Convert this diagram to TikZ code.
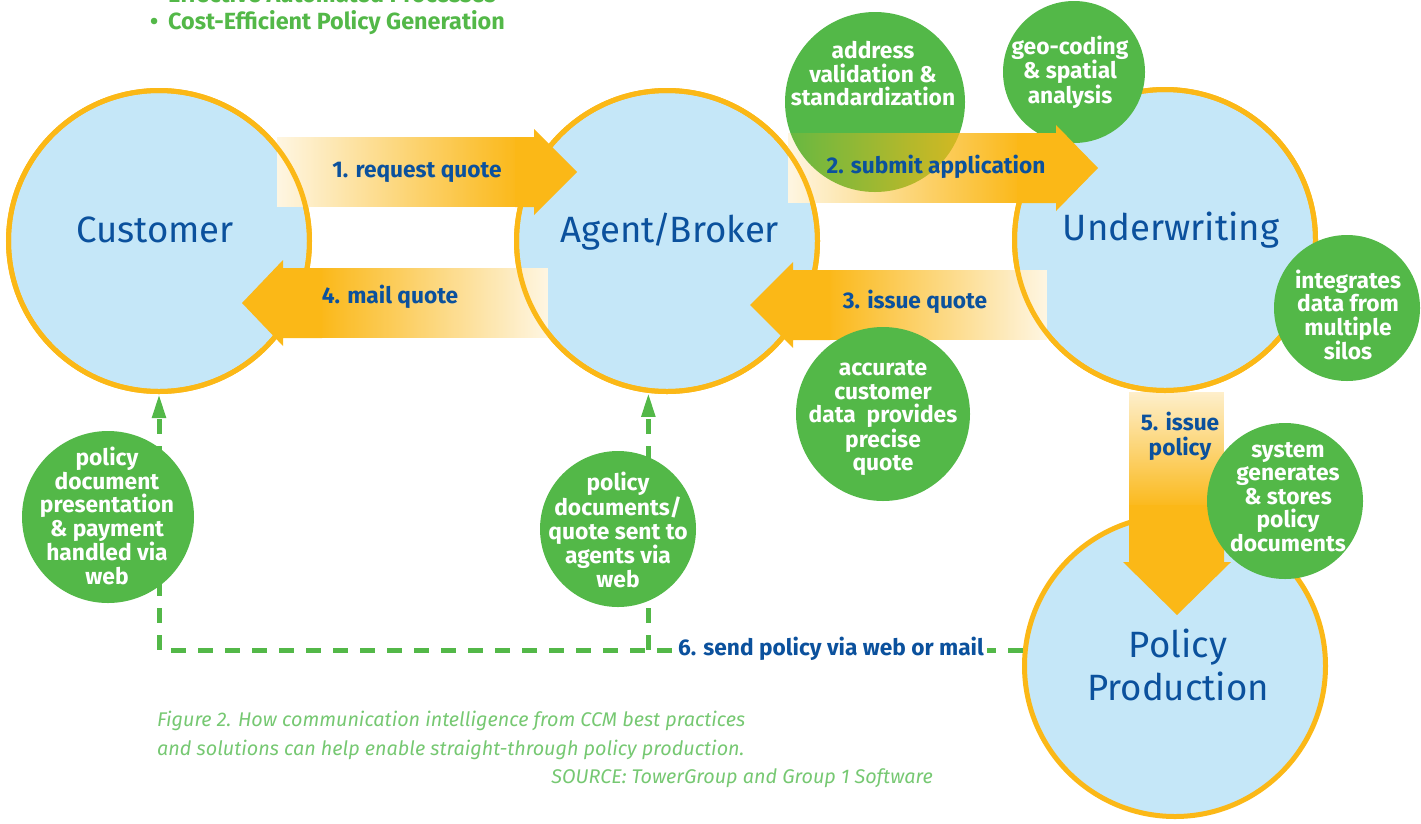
\documentclass[tikz,border=0pt]{standalone}
\usepackage{fontspec}
\setmainfont{Fira Sans}
\usetikzlibrary{arrows.meta,fadings}

\definecolor{skyfill}{HTML}{C5E7F8}
\definecolor{ringorange}{HTML}{FBB817}
\definecolor{leafgreen}{HTML}{53B848}
\definecolor{inkblue}{HTML}{0B519D}
\definecolor{capgreen}{HTML}{76C872}

% opacity ramps for the block-arrow bodies
\tikzfading[name=rampright, left color=transparent!88, right color=transparent!0]
\tikzfading[name=rampleft, left color=transparent!0, right color=transparent!88]
\tikzfading[name=rampdown, top color=transparent!78, bottom color=transparent!0]

\begin{document}
\begin{tikzpicture}[x=1pt, y=-1pt,
  hub/.style={circle, draw=ringorange, line width=5pt, fill=skyfill, minimum size=301pt, inner sep=0pt},
  hubring/.style={circle, draw=ringorange, line width=5pt, minimum size=301pt, inner sep=0pt},
  hubtext/.style={text=inkblue, font=\fontsize{36.6}{42}\selectfont, inner sep=0pt},
  bubble/.style={circle, fill=leafgreen, inner sep=0pt},
  bubbletext/.style={text=white, font=\bfseries\fontsize{22.8}{23.5}\selectfont, align=center, inner sep=0pt},
  flowtext/.style={text=inkblue, font=\bfseries\fontsize{22.7}{25}\selectfont, align=center, inner sep=0pt},
  captext/.style={text=capgreen, font=\itshape\fontsize{19.8}{23}\selectfont, inner sep=0pt},
  headtext/.style={text=leafgreen, font=\bfseries\fontsize{23.4}{26}\selectfont, inner sep=0pt},
  dashline/.style={draw=leafgreen, line width=5pt, dash pattern=on 15pt off 12pt},
  uptip/.style={-{Triangle[length=24pt,width=13pt]}},
  block/.style={fill=ringorange},
  underlay/.style={fill=white}
]
\useasboundingbox (0,0) rectangle (1421,823);

% heading bullets
\node[headtext, anchor=base west] (hd0) at (168,2.5) {Effective Automated Processes};
\node[headtext, anchor=base west] (hdb) at (150,29) {•};
\node[headtext, anchor=base west] (hd1) at (168,29) {Cost-Efficient Policy Generation};

% main process circles
\node[hub] (cust)  at (159,241) {};
\node[hub] (agent) at (667,241) {};
\node[hub] (uw)    at (1165,240) {};
\node[hub] (pp)    at (1175,666) {};

% web / mail delivery paths
\draw[dashline, uptip] (pp.174) -- (cust.south |- pp.174) -- (cust.south);
\draw[dashline, uptip] (agent.-97 |- pp.174) -- (agent.-97);

% pale bodies of the block arrows
\fill[underlay] (277,137) rectangle (520,207);
\fill[underlay] (788,133) rectangle (1022,203);
\fill[underlay] (826,270) rectangle (1047,340);
\fill[underlay] (318,268) rectangle (548,338);
\fill[underlay] (1129,392) rectangle (1224,510);

% rims showing through the pale bodies
\node[hubring] (custr)  at (cust)  {};
\node[hubring] (agentr) at (agent) {};
\node[hubring] (uwr)    at (uw)    {};

% bubbles lying under the arrows
\node[bubble, minimum size=180pt] (addr) at (875,102) {};
\node[bubble, minimum size=142pt] (geo)  at (1074,72) {};

\fill[block, path fading=rampright] (277,137) rectangle (520,207);
\fill[block, path fading=rampright] (788,133) rectangle (1022,203);
\fill[block, path fading=rampleft] (826,270) rectangle (1047,340);
\fill[block, path fading=rampleft] (318,268) rectangle (548,338);
\fill[block, path fading=rampdown] (1129,392) rectangle (1224,510);

% solid heads: 1. request quote, 2. submit application, 3. issue quote, 4. mail quote, 5. issue policy
\fill[block] (515,137) -- (534,137) -- (534,129) -- (577,172) -- (534,215) -- (534,207) -- (515,207) -- cycle;
\fill[block] (1017,133) -- (1056,133) -- (1056,125) -- (1098,168) -- (1056,211) -- (1056,203) -- (1017,203) -- cycle;
\fill[block] (830,270) -- (793,270) -- (793,262) -- (750,305) -- (793,348) -- (793,340) -- (830,340) -- cycle;
\fill[block] (322,268) -- (283,268) -- (283,260) -- (242,303) -- (283,346) -- (283,338) -- (322,338) -- cycle;
\fill[block] (1129,505) -- (1224,505) -- (1224,562) -- (1231,562) -- (1177,615) -- (1123,562) -- (1129,562) -- cycle;

% bubbles lying over the arrows
\node[bubble, minimum size=174pt] (acc)   at (883,414) {};
\node[bubble, minimum size=146pt] (integ) at (1347,308) {};
\node[bubble, minimum size=156pt] (sysg)  at (1285,501) {};
\node[bubble, minimum size=172pt] (pres)  at (108,517) {};
\node[bubble, minimum size=156pt] (sent)  at (618,529) {};

% circle titles
\node[hubtext, anchor=base] (custl)  at (155,242) {Customer};
\node[hubtext, anchor=base] (agentl) at (670,242) {Agent\kern-2pt/\kern-2pt Broker};
\node[hubtext, anchor=base] (uwl)    at (1171,240) {Underwriting};
\node[hubtext, anchor=base] (ppl1)   at (1178,657) {Policy};
\node[hubtext, anchor=base] (ppl2)   at (1178,700) {Production};

% arrow labels
\node[flowtext] (f1) at (417,172) {1. request quote};
\node[flowtext] (f2) at (936,167) {2. submit application};
\node[flowtext] (f3) at (915,302) {3. issue quote};
\node[flowtext] (f4) at (390,297) {4. mail quote};
\node[flowtext] (f5) at (1180,436) {5. issue\\policy};
\node[flowtext, fill=white, inner xsep=3pt, inner ysep=5pt] (f6) at (831,649) {6. send policy via web or mail};

% bubble texts
\node[bubbletext] (addrt)  at (873,74)   {address\\validation \&\\standardization};
\node[bubbletext] (geot)   at (1070,72)  {geo-coding\\\& spatial\\analysis};
\node[bubbletext] (integt) at (1348,315) {integrates\\data from\\multiple\\silos};
\node[bubbletext] (acct)   at (883,418)  {accurate\\customer\\data~ provides\\precise\\quote};
\node[bubbletext] (sysgt)  at (1288,497) {system\\generates\\\& stores\\policy\\documents};
\node[bubbletext] (prest)  at (107,516)  {policy\\document\\presentation\\\& payment\\handled via\\web};
\node[bubbletext] (sentt)  at (618,530)  {policy\\documents/\\quote sent to\\agents via\\web};

% caption
\node[captext, anchor=base west] (cap1) at (157,726) {Figure 2. How communication intelligence from CCM best practices};
\node[captext, anchor=base west] (cap2) at (157,755) {and solutions can help enable straight-through policy production.};
\node[captext, anchor=base east] (cap3) at (933,783) {SOURCE: TowerGroup and Group 1 Software};
\end{tikzpicture}
\end{document}
